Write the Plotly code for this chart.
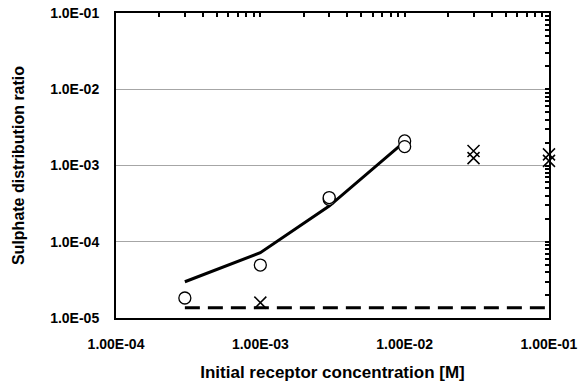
import plotly.graph_objects as go

# Measured distribution ratios versus initial receptor concentration
circle_x = [3e-4, 1e-3, 3e-3, 3e-3, 1e-2, 1e-2]
circle_y = [1.83e-5, 4.95e-5, 3.6e-4, 3.8e-4, 2.1e-3, 1.77e-3]

cross_x = [1e-3, 3e-2, 3e-2, 1e-1, 1e-1]
cross_y = [1.59e-5, 1.55e-3, 1.25e-3, 1.4e-3, 1.15e-3]

# Model curve
model_x = [3e-4, 1e-3, 3e-3, 1e-2]
model_y = [2.99e-5, 7.18e-5, 2.94e-4, 2.05e-3]

# Baseline level
base_x = [3e-4, 1e-1]
base_y = [1.36e-5, 1.36e-5]

x_tickvals = [1e-4, 1e-3, 1e-2, 1e-1]
x_ticktext = ["1.00E-04", "1.00E-03", "1.00E-02", "1.00E-01"]
y_tickvals = [1e-5, 1e-4, 1e-3, 1e-2, 1e-1]
y_ticktext = ["1.0E-05", "1.0E-04", "1.0E-03", "1.0E-02", "1.0E-01"]

FONT = "Liberation Sans, Arial, sans-serif"
XR = [-4, -0.9999]
YR = [-5, -1]


def bold(labels):
    return ["<b>%s</b>" % s for s in labels]


fig = go.Figure()

fig.add_trace(go.Scatter(
    x=base_x, y=base_y, mode="lines",
    line=dict(color="black", width=3, dash="15px,8px"),
    hoverinfo="skip", showlegend=False,
))
fig.add_trace(go.Scatter(
    x=model_x, y=model_y, mode="lines",
    line=dict(color="black", width=3),
    showlegend=False,
))
fig.add_trace(go.Scatter(
    x=circle_x, y=circle_y, mode="markers",
    marker=dict(symbol="circle", size=12, color="white",
                line=dict(color="black", width=1.3)),
    cliponaxis=False, showlegend=False,
))
fig.add_trace(go.Scatter(
    x=cross_x, y=cross_y, mode="markers",
    marker=dict(symbol="x-thin", size=12, color="black",
                line=dict(color="black", width=1.5)),
    cliponaxis=False, showlegend=False,
))
# Companion axes carrying the inner tick marks on the top and right edges
fig.add_trace(go.Scatter(
    x=base_x, y=base_y, xaxis="x2", yaxis="y2", mode="none",
    hoverinfo="skip", showlegend=False,
))

fig.update_layout(
    width=588, height=387,
    margin=dict(l=116, r=39, t=13, b=69),
    paper_bgcolor="white", plot_bgcolor="white",
    font=dict(family=FONT, color="black"),
    xaxis=dict(
        type="log", range=XR, automargin=False,
        tickvals=x_tickvals, ticktext=bold(x_ticktext),
        tickfont=dict(size=14, family=FONT),
        ticks="", ticklabelstandoff=12,
        showgrid=False, zeroline=False,
        showline=True, linecolor="black", linewidth=2,
        title=dict(text="<b>Initial receptor concentration [M]</b>",
                   font=dict(size=17, family=FONT), standoff=15),
    ),
    yaxis=dict(
        type="log", range=YR, automargin=False,
        tickvals=y_tickvals, ticktext=bold(y_ticktext),
        tickfont=dict(size=14, family=FONT),
        ticks="", ticklabelstandoff=12,
        showgrid=True, gridcolor="#a6a6a6", gridwidth=1,
        zeroline=False,
        showline=True, linecolor="black", linewidth=2,
        title=dict(text="<b>Sulphate distribution ratio</b>",
                   font=dict(size=16, family=FONT), standoff=22),
    ),
    xaxis2=dict(
        type="log", range=XR, overlaying="x", side="top", automargin=False,
        showticklabels=False, showgrid=False, zeroline=False,
        showline=True, linecolor="black", linewidth=2,
        ticks="inside", ticklen=4, tickwidth=1.5, tickcolor="black", dtick=1,
        minor=dict(ticks="inside", ticklen=4, tickwidth=1.5,
                   tickcolor="black", showgrid=False),
    ),
    yaxis2=dict(
        type="log", range=YR, overlaying="y", side="right", automargin=False,
        showticklabels=False, showgrid=False, zeroline=False,
        showline=True, linecolor="black", linewidth=2,
        ticks="inside", ticklen=4, tickwidth=1.5, tickcolor="black", dtick=1,
        minor=dict(ticks="inside", ticklen=4, tickwidth=1.5,
                   tickcolor="black", showgrid=False),
    ),
)

fig.write_html("out.html")
